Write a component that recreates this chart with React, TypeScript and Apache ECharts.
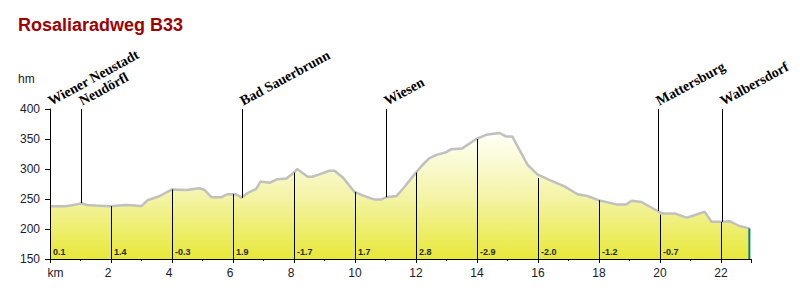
import React, { useEffect, useRef } from 'react';
import * as echarts from 'echarts';

// Elevation profile (km, m)
const profileKm = [0, 0.5, 0.87, 1.03, 1.2, 1.5, 1.95, 2.5, 2.8, 3.0, 3.2, 3.6, 4.0, 4.47, 4.9, 5.07, 5.29, 5.62, 5.83, 6.1, 6.28, 6.48, 6.76, 6.9, 7.2, 7.45, 7.75, 8.0, 8.1, 8.45, 8.6, 8.83, 9.16, 9.33, 9.6, 9.98, 10.25, 10.64, 10.85, 11.03, 11.36, 11.62, 11.95, 12.18, 12.44, 12.7, 12.99, 13.16, 13.5, 13.98, 14.3, 14.74, 14.96, 15.16, 15.66, 15.98, 16.37, 16.87, 17.3, 17.62, 17.98, 18.57, 18.9, 19.07, 19.39, 19.92, 20.08, 20.48, 20.87, 21.13, 21.46, 21.69, 22.02, 22.28, 22.6, 22.93];
const profileElev = [238, 238, 241, 243, 240, 239, 238, 240, 239, 238, 248, 255, 266, 265, 268, 265, 253, 253, 258, 258, 252, 260, 267, 279, 277, 283, 284, 294, 300, 287, 287, 291, 297, 297, 286, 262, 256, 249, 249, 253, 255, 270, 291, 305, 318, 324, 328, 333, 334, 350, 357, 360, 354, 354, 307, 291, 282, 271, 258, 255, 248, 241, 241, 247, 245, 230, 226, 226, 219, 223, 229, 212, 212, 213, 205, 201];

// Towns
const townNames = ['Wiener Neustadt', 'Neudörfl', 'Bad Sauerbrunn', 'Wiesen', 'Mattersburg', 'Walbersdorf'];
const townKm = [0, 1.03, 6.28, 11.03, 19.92, 22.02];
const townElev = [238, 243, 252, 253, 230, 212];

// Gradient markers (%)
const gradKm = [0, 2, 4, 6, 8, 10, 12, 14, 16, 18, 20, 22];
const gradTop = [238, 238, 266, 258, 294, 262, 294, 350, 285, 248, 224, 212];
const gradLabels = ['0.1', '1.4', '-0.3', '1.9', '-1.7', '1.7', '2.8', '-2.9', '-2.0', '-1.2', '-0.7', ''];

// Axis ticks
const yTicks = { min: 150, max: 400, interval: 50 };
const xTicks = { min: 0, max: 23, interval: 2 };

const endKm = 22.93;
const endElev = 201;

export default function App() {
  const ref = useRef<HTMLDivElement>(null);
  useEffect(() => {
    if (!ref.current) return;
    const chart = echarts.init(ref.current, undefined, { renderer: 'svg' });
    const sans = 'Arial, "Liberation Sans", sans-serif';
    const option: any = {
      animation: false,
      title: {
        text: 'Rosaliaradweg B33',
        left: 18,
        top: 16,
        padding: 0,
        textStyle: { color: '#a00000', fontSize: 18, fontWeight: 'bold', fontFamily: sans },
      },
      graphic: [
        {
          type: 'text',
          left: 18,
          top: 73,
          style: { text: 'hm', font: '12px ' + sans, fill: '#1a1a2a' },
        },
      ],
      grid: { left: 50, right: 48.5, top: 109, bottom: 40, containLabel: false },
      xAxis: {
        type: 'value',
        min: xTicks.min,
        max: xTicks.max,
        interval: xTicks.interval,
        axisLine: { show: true, lineStyle: { color: '#000', width: 1 } },
        axisTick: { show: true, length: 4, lineStyle: { color: '#000' } },
        minorTick: { show: true, splitNumber: 2, length: 2, lineStyle: { color: '#000' } },
        splitLine: { show: false },
        minorSplitLine: { show: false },
        axisLabel: {
          margin: 8,
          color: '#1a1a2a',
          fontSize: 12,
          fontFamily: sans,
          formatter: (v: number) => {
            if (v === 0) return '{k|km}';
            if (Math.abs(v % 2) > 1e-6) return '';
            return v < 10 ? '{s|' + v + '}' : String(v);
          },
          rich: {
            k: { fontSize: 12, fontFamily: sans, color: '#1a1a2a', padding: [0, 0, 0, 11] },
            s: { fontSize: 12, fontFamily: sans, color: '#1a1a2a', padding: [0, 6, 0, 0] },
          },
        },
      },
      yAxis: {
        type: 'value',
        min: yTicks.min,
        max: yTicks.max,
        interval: yTicks.interval,
        axisLine: { show: true, lineStyle: { color: '#000', width: 1 } },
        axisTick: { show: true, length: 5, lineStyle: { color: '#000' } },
        splitLine: { show: false },
        axisLabel: { margin: 10, color: '#1a1a2a', fontSize: 12, fontFamily: sans },
      },
      series: [
        {
          type: 'line',
          data: profileKm.map((k, i) => [k, profileElev[i]]),
          showSymbol: false,
          symbol: 'none',
          lineStyle: { color: '#c0c0c0', width: 2.5 },
          areaStyle: {
            origin: 'start',
            opacity: 1,
            color: new echarts.graphic.LinearGradient(0, 0, 0, 1, [
              { offset: 0, color: '#fffff8' },
              { offset: 0.5, color: '#f4f4a8' },
              { offset: 1, color: '#e8e83a' },
            ]),
          },
          z: 1,
        },
        {
          type: 'custom',
          clip: false,
          z: 3,
          data: gradKm.map((k, i) => [k, gradTop[i]]),
          renderItem: (params: any, api: any) => {
            const k = api.value(0);
            const t = api.value(1);
            const b = api.coord([k, yTicks.min]);
            const tp = api.coord([k, t]);
            const x = Math.round(b[0]) + 0.5;
            return {
              type: 'group',
              children: [
                {
                  type: 'line',
                  shape: { x1: x, y1: b[1] + 3, x2: x, y2: tp[1] },
                  style: { stroke: '#000', lineWidth: 1 },
                },
                {
                  type: 'text',
                  x: x + 2.5,
                  y: b[1] - 7,
                  style: {
                    text: gradLabels[params.dataIndex],
                    font: 'bold 9px ' + sans,
                    fill: '#2a2a2a',
                    textAlign: 'left',
                    textVerticalAlign: 'middle',
                  },
                },
              ],
            };
          },
        },
        {
          type: 'custom',
          clip: false,
          z: 4,
          data: townKm.map((k, i) => [k, townElev[i]]),
          renderItem: (params: any, api: any) => {
            const k = api.value(0);
            const e = api.value(1);
            const tp = api.coord([k, yTicks.max]);
            const bt = api.coord([k, e]);
            const x = Math.round(tp[0]) + 0.5;
            return {
              type: 'group',
              children: [
                {
                  type: 'line',
                  shape: { x1: x, y1: tp[1], x2: x, y2: bt[1] },
                  style: { stroke: '#000', lineWidth: 1 },
                },
                {
                  type: 'text',
                  x: x + 2,
                  y: tp[1] - 1,
                  rotation: Math.PI / 6.3,
                  style: {
                    text: townNames[params.dataIndex],
                    font: 'bold 14px "Liberation Serif", "Times New Roman", serif',
                    fill: '#000',
                    textAlign: 'left',
                    textVerticalAlign: 'bottom',
                  },
                },
              ],
            };
          },
        },
        {
          type: 'custom',
          clip: false,
          z: 5,
          data: [[endKm, endElev]],
          renderItem: (params: any, api: any) => {
            const b = api.coord([api.value(0), yTicks.min]);
            const t = api.coord([api.value(0), api.value(1)]);
            return {
              type: 'line',
              shape: { x1: b[0], y1: b[1], x2: t[0], y2: t[1] },
              style: { stroke: '#008080', lineWidth: 2 },
            };
          },
        },
      ],
    };
    chart.setOption(option);
    return () => chart.dispose();
  }, []);
  return (
    <div
      ref={ref}
      style={{ position: 'fixed', left: 0, top: 0, width: 800, height: 299, background: '#fff' }}
    />
  );
}
